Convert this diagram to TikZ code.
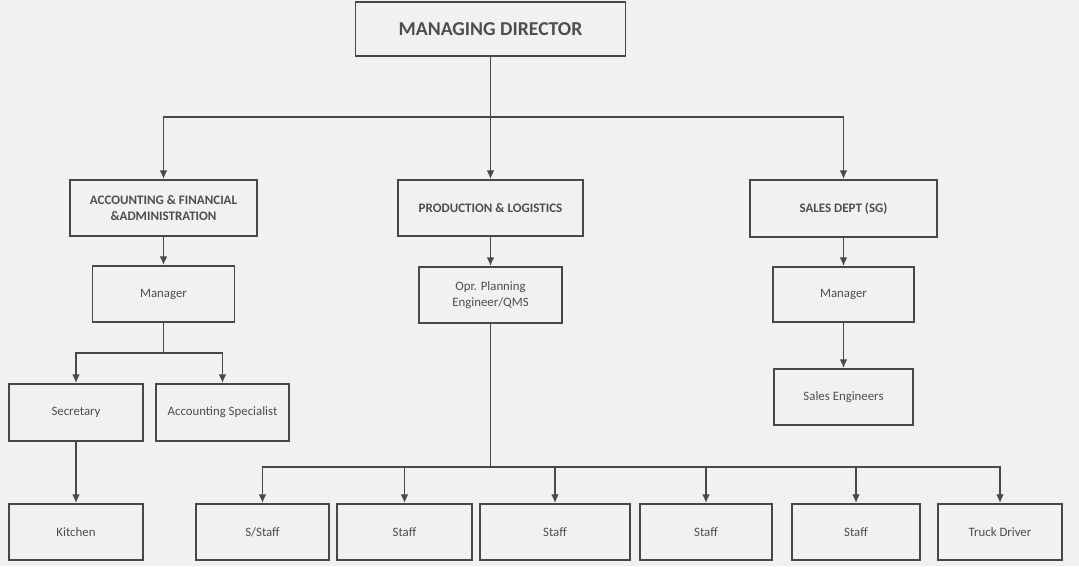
\documentclass[tikz,border=0pt]{standalone}
\usepackage{fontspec}
\setmainfont{Carlito}
\usetikzlibrary{arrows.meta}

\definecolor{paper}{RGB}{239,241,242}
\definecolor{ink}{RGB}{72,72,72}
\definecolor{txt}{RGB}{78,78,78}

\begin{document}
\begin{tikzpicture}[x=0.02cm,y=-0.02cm,
  box/.style={draw=ink,line width=1.1pt,text=txt,align=center,inner sep=1pt,font=\fontsize{7.3}{9.5}\selectfont},
  head/.style={box,font=\fontsize{7.4}{9.5}\selectfont\bfseries},
  link/.style={draw=ink,line width=1.1pt},
  arr/.style={link,-{Latex[length=5pt,width=4.5pt]}}]
\fill[paper] (0,0) rectangle (1079,566);
\useasboundingbox (0,0) rectangle (1079,566);

\node[head,font=\fontsize{11.2}{13}\selectfont\bfseries,minimum width=5.4cm,minimum height=1.08cm] (md) at (490.5,29) {MANAGING DIRECTOR};

\node[head,minimum width=3.74cm,minimum height=1.12cm] (acc) at (163.5,208) {ACCOUNTING \& FINANCIAL\\\&ADMINISTRATION};
\node[head,minimum width=3.7cm,minimum height=1.12cm] (prod) at (490.5,208) {PRODUCTION \& LOGISTICS};
\node[head,minimum width=3.74cm,minimum height=1.14cm] (sales) at (843.5,208.5) {SALES DEPT (SG)};

\node[box,minimum width=2.84cm,minimum height=1.12cm] (mgr1) at (163.5,294) {Manager};
\node[box,minimum width=2.86cm,minimum height=1.12cm] (opr) at (490.5,295) {Opr. Planning\\Engineer/QMS};
\node[box,minimum width=2.82cm,minimum height=1.1cm] (mgr2) at (843.5,294.5) {Manager};
\node[box,minimum width=2.78cm,minimum height=1.12cm] (seng) at (843.5,397) {Sales Engineers};

\node[box,minimum width=2.68cm,minimum height=1.14cm] (sec) at (76,412.5) {Secretary};
\node[box,minimum width=2.66cm,minimum height=1.14cm] (aspec) at (222.5,412.5) {Accounting Specialist};
\node[box,minimum width=2.68cm,minimum height=1.12cm] (kit) at (76,532) {Kitchen};

\node[box,minimum width=2.66cm,minimum height=1.12cm] (sstaff) at (262.5,532) {S/Staff};
\node[box,minimum width=2.7cm,minimum height=1.12cm] (st1) at (404.5,532) {Staff};
\node[box,minimum width=3.0cm,minimum height=1.12cm] (st2) at (555,532) {Staff};
\node[box,minimum width=2.64cm,minimum height=1.12cm] (st3) at (706,532) {Staff};
\node[box,minimum width=2.56cm,minimum height=1.12cm] (st4) at (856,532) {Staff};
\node[box,minimum width=2.48cm,minimum height=1.12cm] (truck) at (1000,532) {Truck Driver};

\coordinate (bus1) at (0,117);
\coordinate (bus2) at (0,353);
\coordinate (bus3) at (0,467);

\draw[link] (md) -- (md |- bus1);
\foreach \d in {acc,prod,sales}
  \draw[arr] (md |- bus1) -| (\d);
\draw[arr] (acc) -- (mgr1);
\draw[arr] (prod) -- (opr);
\draw[arr] (sales) -- (mgr2);
\draw[arr] (mgr2) -- (seng);

\draw[link] (mgr1) -- (mgr1 |- bus2);
\foreach \s in {sec,aspec}
  \draw[arr] (mgr1 |- bus2) -| (\s);
\draw[arr] (sec) -- (kit);

\draw[link] (opr) -- (opr |- bus3);
\foreach \s in {sstaff,st1,st2,st3,st4,truck}
  \draw[arr] (opr |- bus3) -| (\s);
\end{tikzpicture}
\end{document}
